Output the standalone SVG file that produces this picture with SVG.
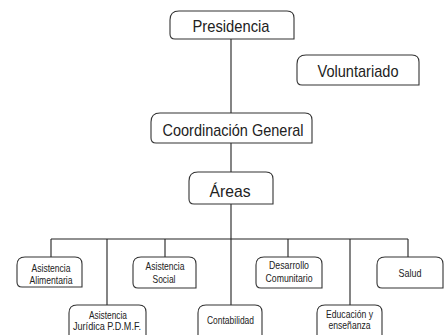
<svg xmlns="http://www.w3.org/2000/svg" width="445" height="335" viewBox="0 0 445 335">
<style>
.box{fill:#fff;stroke:#333;stroke-width:1.1}
.big{font-family:"Liberation Sans",Arial,sans-serif;font-size:17px;fill:#222;text-anchor:middle}
.sm{font-family:"Liberation Sans",Arial,sans-serif;font-size:11.5px;fill:#222;text-anchor:middle}
.ln{stroke:#222;stroke-width:1.1;fill:none}
</style>
<rect width="445" height="335" fill="#fff"/>
<g id="connectors">
<path class="ln" d="M231,39V113M231,143V172M231,204V305M51,239H408M51,239V257M107,239V305M165,239V257M288,239V257M350,239V305M408,239V257"/>
</g>
<g id="presidencia">
<path class="box" d="M170,20 Q170,11 179,11 H287 Q294,11 294,18 V39 H175 Q170,39 170,34 Z"/>
<text class="big" x="231" y="32" textLength="77" lengthAdjust="spacingAndGlyphs">Presidencia</text>
</g>
<g id="voluntariado">
<path class="box" d="M297,64 Q297,55 306,55 H412 Q419,55 419,62 V85 H302 Q297,85 297,80 Z"/>
<text class="big" x="358" y="77" textLength="81" lengthAdjust="spacingAndGlyphs">Voluntariado</text>
</g>
<g id="coordinacion">
<path class="box" d="M151,122 Q151,113 160,113 H305 Q312,113 312,120 V143 H156 Q151,143 151,138 Z"/>
<text class="big" x="233" y="136" textLength="141" lengthAdjust="spacingAndGlyphs">Coordinación General</text>
</g>
<g id="areas">
<path class="box" d="M189,181 Q189,172 198,172 H266 Q273,172 273,179 V204 H194 Q189,204 189,199 Z"/>
<text class="big" x="230" y="197" textLength="41" lengthAdjust="spacingAndGlyphs">Áreas</text>
</g>
<g id="alimentaria">
<path class="box" d="M17,265 Q17,257 25,257 H75 Q82,257 82,264 V287 H22 Q17,287 17,282 Z"/>
<text class="sm" x="51" y="272" textLength="39" lengthAdjust="spacingAndGlyphs">Asistencia</text>
<text class="sm" x="51" y="284" textLength="43" lengthAdjust="spacingAndGlyphs">Alimentaria</text>
</g>
<g id="juridica">
<path class="box" d="M69,313 Q69,305 77,305 H139 Q146,305 146,312 V340 H74 Q69,340 69,335 Z"/>
<text class="sm" x="108" y="319" textLength="38" lengthAdjust="spacingAndGlyphs">Asistencia</text>
<text class="sm" x="107" y="330" textLength="68" lengthAdjust="spacingAndGlyphs">Jurídica P.D.M.F.</text>
</g>
<g id="social">
<path class="box" d="M133,265 Q133,257 141,257 H189 Q196,257 196,264 V288 H138 Q133,288 133,283 Z"/>
<text class="sm" x="165" y="270" textLength="39" lengthAdjust="spacingAndGlyphs">Asistencia</text>
<text class="sm" x="164" y="283" textLength="23" lengthAdjust="spacingAndGlyphs">Social</text>
</g>
<g id="contabilidad">
<path class="box" d="M198,313 Q198,305 206,305 H255 Q262,305 262,312 V340 H203 Q198,340 198,335 Z"/>
<text class="sm" x="230.5" y="324" textLength="47" lengthAdjust="spacingAndGlyphs">Contabilidad</text>
</g>
<g id="desarrollo">
<path class="box" d="M256,265 Q256,257 264,257 H315 Q322,257 322,264 V288 H261 Q256,288 256,283 Z"/>
<text class="sm" x="289" y="269" textLength="40" lengthAdjust="spacingAndGlyphs">Desarrollo</text>
<text class="sm" x="289" y="282" textLength="47" lengthAdjust="spacingAndGlyphs">Comunitario</text>
</g>
<g id="educacion">
<path class="box" d="M317,313 Q317,305 325,305 H375 Q382,305 382,312 V340 H322 Q317,340 317,335 Z"/>
<text class="sm" x="349.5" y="318" textLength="47" lengthAdjust="spacingAndGlyphs">Educación y</text>
<text class="sm" x="349.5" y="329" textLength="42" lengthAdjust="spacingAndGlyphs">enseñanza</text>
</g>
<g id="salud">
<path class="box" d="M377,265 Q377,257 385,257 H436 Q443,257 443,264 V288 H382 Q377,288 377,283 Z"/>
<text class="sm" x="410" y="277" textLength="23" lengthAdjust="spacingAndGlyphs">Salud</text>
</g>
</svg>
